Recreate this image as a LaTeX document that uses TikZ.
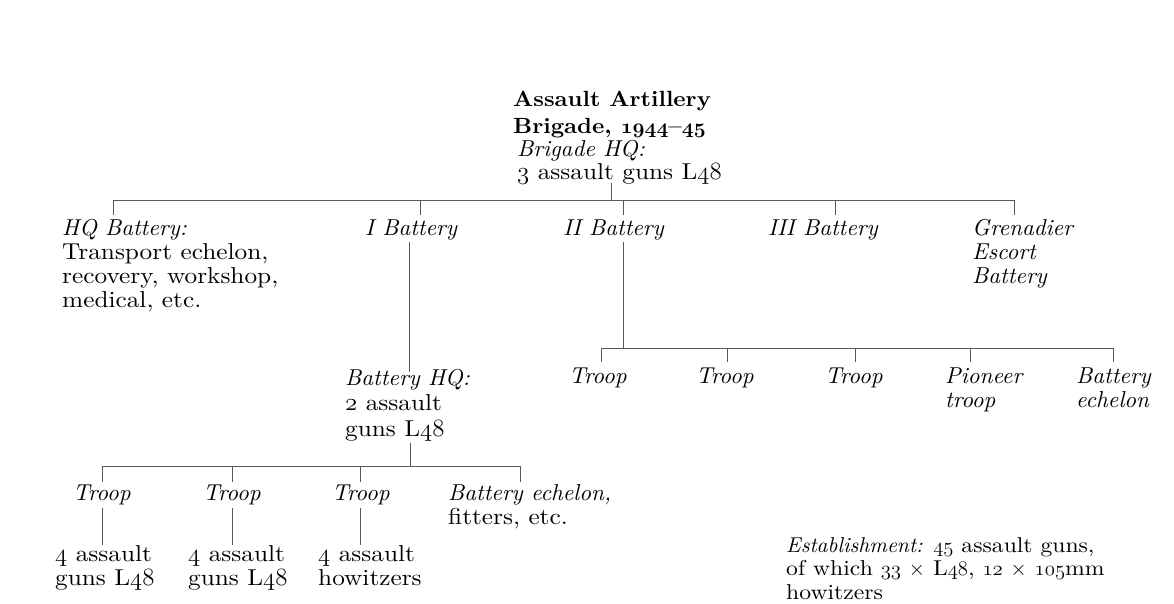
\documentclass[tikz,border=0pt]{standalone}
\usepackage{fontspec}
\setmainfont{lmroman10-regular.otf}[
  BoldFont=lmroman10-bold.otf,
  ItalicFont=lmroman10-italic.otf,
  BoldItalicFont=lmroman10-bolditalic.otf,
  UprightFeatures={FakeStretch=1.10},
  BoldFeatures={FakeStretch=1.06}]
\newcommand\bfs{\fontsize{23}{24.5}\selectfont}
\newcommand\osn[1]{\ensuremath{\mathnormal{#1}}}
\tikzset{
  bus/.style={draw=black!65, line width=0.7pt},
  txt/.style={anchor=base west, inner sep=0pt, align=left, font=\bfs},
  itx/.style={txt, font=\bfs\itshape},
}
\begin{document}
\begin{tikzpicture}[x=1pt,y=-1pt]
\useasboundingbox[fill=white] (0,0) rectangle (1174,603);
% title (base = last line)
\node[txt, font=\fontsize{22}{27}\selectfont\bfseries] (title) at (513,133) {Assault Artillery\\Brigade, {\boldmath\osn{1944}}--{\boldmath\osn{45}}};
\node[txt, font=\fontsize{23}{23}\selectfont] (bhq) at (517,179) {\textit{Brigade HQ:}\\\osn{3} assault guns L\osn{48}};
% batteries
\node[txt, font=\fontsize{23}{24}\selectfont] (hqb) at (62,307) {\textit{HQ Battery:}\\Transport echelon,\\recovery, workshop,\\medical, etc.};
\node[itx] (b1) at (365,235) {I Battery};
\node[itx] (b2) at (563,235) {II Battery};
\node[itx] (b3) at (768,235) {III Battery};
\node[itx, font=\fontsize{23}{24}\selectfont\itshape] (gr) at (972,283) {Grenadier\\Escort\\Battery};
% II battery subunits
\node[itx] (r1) at (569,383) {Troop};
\node[itx] (r2) at (696,383) {Troop};
\node[itx] (r3) at (825,383) {Troop};
\node[itx, font=\fontsize{23}{24}\selectfont\itshape] (r4) at (945,407) {Pioneer\\troop};
\node[itx, font=\fontsize{23}{24}\selectfont\itshape] (r5) at (1076,407) {Battery\\echelon};
% I battery subunits
\node[txt, font=\fontsize{23}{25.5}\selectfont] (bhq2) at (345,436) {\textit{Battery HQ:}\\\osn{2} assault\\guns L\osn{48}};
\node[itx] (l1) at (73,500) {Troop};
\node[itx] (l2) at (203,500) {Troop};
\node[itx] (l3) at (332,500) {Troop};
\node[txt, font=\fontsize{23}{24}\selectfont] (l4) at (448,524) {\textit{Battery echelon,}\\fitters, etc.};
\node[txt, font=\fontsize{23}{24}\selectfont] (g1) at (55,585) {\osn{4} assault\\guns L\osn{48}};
\node[txt, font=\fontsize{23}{24}\selectfont] (g2) at (188,585) {\osn{4} assault\\guns L\osn{48}};
\node[txt, font=\fontsize{23}{24}\selectfont] (g3) at (318,585) {\osn{4} assault\\howitzers};
\node[txt, font=\fontsize{21.5}{23.5}\selectfont] (est) at (786,599) {\textit{Establishment:} \osn{45} assault guns,\\of which \osn{33} $\times$ L\osn{48}, \osn{12} $\times$ \osn{105}mm\\howitzers};
% coordinates
\coordinate (hqA) at (611,183); \coordinate (hqB) at (611,200);
\coordinate (mL) at (113,200); \coordinate (mR) at (1014,200);
\foreach \n/\x in {d0/113,d1/420,d2/623,d3/835,d4/1014}{
  \coordinate (\n t) at (\x,200); \coordinate (\n b) at (\x,215);}
\coordinate (v1a) at (409,242); \coordinate (v1b) at (409,372);
\coordinate (v2a) at (623,242); \coordinate (v2b) at (623,348);
\coordinate (rL) at (601,348); \coordinate (rR) at (1113,348);
\foreach \n/\x in {e1/601,e2/727,e3/855,e4/970,e5/1113}{
  \coordinate (\n t) at (\x,348); \coordinate (\n b) at (\x,362);}
\coordinate (v3a) at (410,443); \coordinate (v3b) at (410,466);
\coordinate (lL) at (102,466); \coordinate (lR) at (520,466);
\foreach \n/\x in {f1/102,f2/232,f3/360,f4/520}{
  \coordinate (\n t) at (\x,466); \coordinate (\n b) at (\x,482);}
\foreach \n/\x in {h1/102,h2/232,h3/360}{
  \coordinate (\n t) at (\x,508); \coordinate (\n b) at (\x,545);}
% connectors
\draw[bus] (hqA) -- (hqB);
\draw[bus] (mL) -- (mR);
\foreach \n in {d0,d1,d2,d3,d4} \draw[bus] (\n t) -- (\n b);
\draw[bus] (v1a) -- (v1b);
\draw[bus] (v2a) -- (v2b);
\draw[bus] (rL) -- (rR);
\foreach \n in {e1,e2,e3,e4,e5} \draw[bus] (\n t) -- (\n b);
\draw[bus] (v3a) -- (v3b);
\draw[bus] (lL) -- (lR);
\foreach \n in {f1,f2,f3,f4} \draw[bus] (\n t) -- (\n b);
\foreach \n in {h1,h2,h3} \draw[bus] (\n t) -- (\n b);
\end{tikzpicture}
\end{document}
